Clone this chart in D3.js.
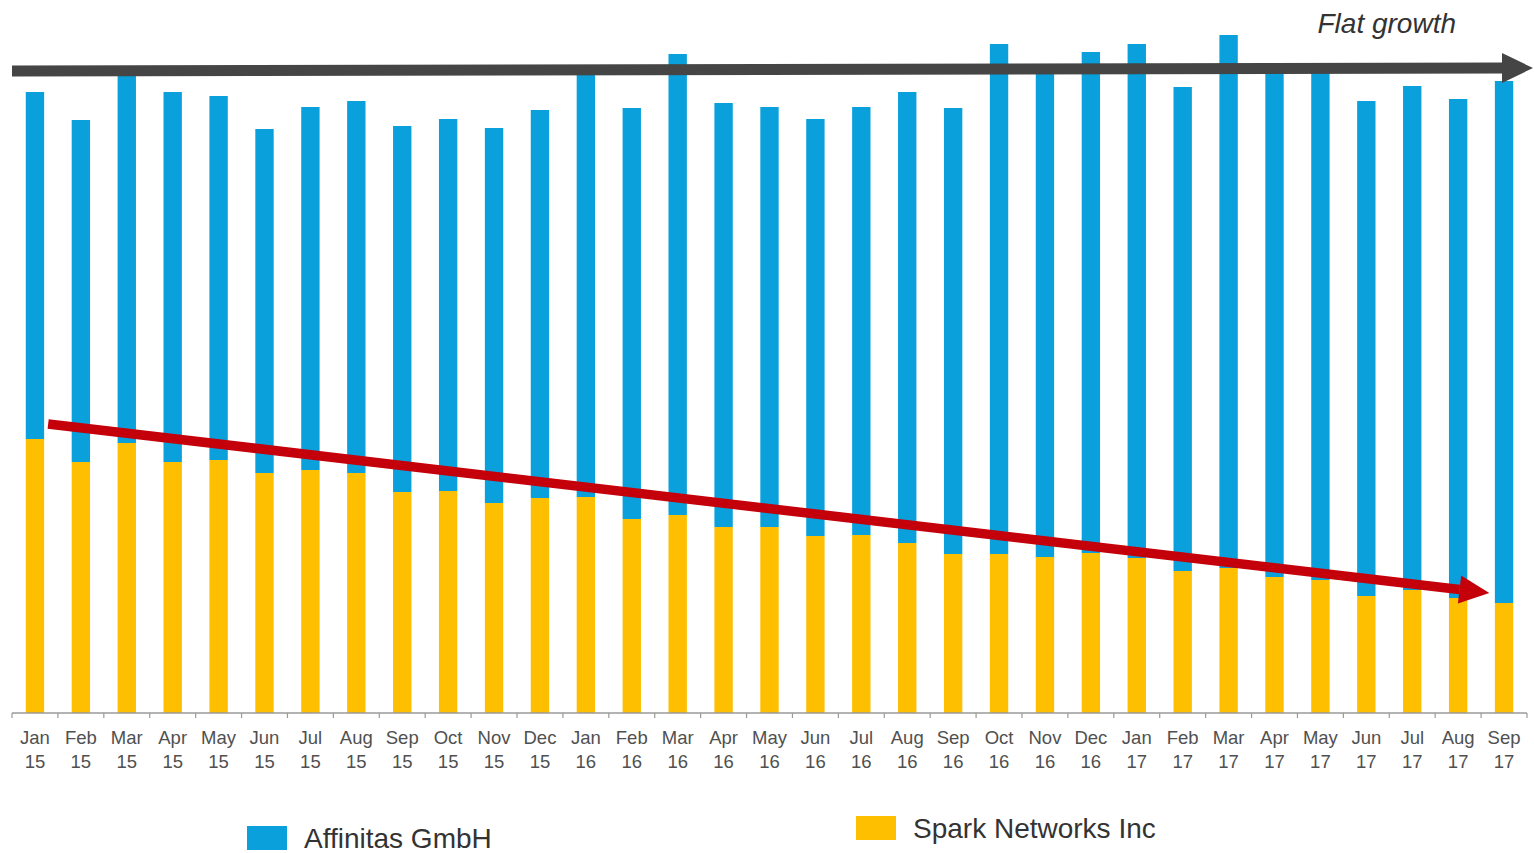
<!DOCTYPE html>
<html>
<head>
<meta charset="utf-8">
<script src="https://cdn.jsdelivr.net/npm/d3@7"></script>
<style>
  html, body { margin: 0; padding: 0; background: #fff; }
  svg { display: block; font-family: "Liberation Sans", Arial, Helvetica, sans-serif; }
</style>
</head>
<body>
<svg id="chart" width="1534" height="853"></svg>
<script>
// Monthly index, Jan 2015 – Sep 2017
const months = ["Jan","Feb","Mar","Apr","May","Jun","Jul","Aug","Sep","Oct","Nov","Dec",
                "Jan","Feb","Mar","Apr","May","Jun","Jul","Aug","Sep","Oct","Nov","Dec",
                "Jan","Feb","Mar","Apr","May","Jun","Jul","Aug","Sep"];
const years  = ["15","15","15","15","15","15","15","15","15","15","15","15",
                "16","16","16","16","16","16","16","16","16","16","16","16",
                "17","17","17","17","17","17","17","17","17"];
const spark = [274,251,270,251,253,240,243,240,221,222,210,215,
               216,194,198,186,186,177,178,170,159,159,156,160,
               155,142,145,136,133,117,123,115,110];
const affinitas = [347,342,371,370,364,344,363,372,366,372,375,388,
                   422,411,461,424,420,417,428,451,446,510,485,501,
                   514,484,533,505,508,495,504,499,522];
const seriesNames = ["Spark Networks Inc", "Affinitas GmbH"];
const seriesColors = ["#fdbf00", "#0aa0dc"];
// Trend annotations (same units as the bars)
const flatLevel = [642, 645];      // start / end level of the flat-growth arrow
const declineLevel = [289, 120];   // start / end level of the declining arrow
const flatLabel = "Flat growth";

const svg = d3.select("#chart");
const keys = months.map((m, i) => m + " " + years[i]);
const rows = keys.map((k, i) => ({ key: k, spark: spark[i], affinitas: affinitas[i] }));

const x = d3.scaleBand().domain(keys).range([12, 1527]).paddingInner(0.6).paddingOuter(0.3);
const y = d3.scaleLinear().domain([0, 680]).range([713, 33]);

const stack = d3.stack().keys(["spark", "affinitas"]);
const layers = stack(rows);

svg.append("g").selectAll("g")
  .data(layers)
  .join("g")
  .attr("fill", (d, i) => seriesColors[i])
  .selectAll("rect")
  .data(d => d)
  .join("rect")
  .attr("x", d => x(d.data.key))
  .attr("width", x.bandwidth())
  .attr("y", d => y(d[1]))
  .attr("height", d => y(d[0]) - y(d[1]));

// Axis baseline and boundary ticks
const axisG = svg.append("g").attr("transform", `translate(0,${y(0)})`);
axisG.append("line")
  .attr("x1", x.range()[0]).attr("x2", x.range()[1])
  .attr("stroke", "#9a9a9a").attr("stroke-width", 1.5);
const half = (x.step() - x.bandwidth()) / 2;
const bounds = keys.map(k => x(k) - half).concat([x.range()[1]]);
axisG.selectAll("line.tick")
  .data(bounds)
  .join("line")
  .attr("class", "tick")
  .attr("x1", d => d).attr("x2", d => d)
  .attr("y1", 0).attr("y2", 5)
  .attr("stroke", "#9a9a9a").attr("stroke-width", 1.2);

// Two-line month / year labels
const lab = axisG.selectAll("text.lab")
  .data(keys)
  .join("text")
  .attr("class", "lab")
  .attr("x", d => x(d) + x.bandwidth() / 2)
  .attr("text-anchor", "middle")
  .attr("fill", "#505050")
  .attr("font-size", 18.5);
lab.append("tspan").attr("x", d => x(d) + x.bandwidth() / 2).attr("y", 31).text((d, i) => months[i]);
lab.append("tspan").attr("x", d => x(d) + x.bandwidth() / 2).attr("y", 55).text((d, i) => years[i]);

// Flat growth arrow
const gx0 = x.range()[0], gx1 = x.range()[1] + 6;
const gy0 = y(flatLevel[0]), gy1 = y(flatLevel[1]);
svg.append("line")
  .attr("x1", gx0).attr("y1", gy0)
  .attr("x2", gx1 - 28).attr("y2", gy1)
  .attr("stroke", "#454545").attr("stroke-width", 11);
svg.append("path")
  .attr("d", `M${gx1},${gy1} L${gx1 - 31},${gy1 - 15} L${gx1 - 31},${gy1 + 15} Z`)
  .attr("fill", "#454545");
svg.append("text")
  .attr("x", gx1 - 77).attr("y", 33)
  .attr("text-anchor", "end")
  .attr("font-size", 28)
  .attr("font-style", "italic")
  .attr("fill", "#333")
  .text(flatLabel);

// Declining trend arrow
const rx0 = x(keys[0]) + x.bandwidth() + 4;
const rx1 = x(keys[keys.length - 2]) + x.bandwidth() + 22;
const ry0 = y(declineLevel[0]), ry1 = y(declineLevel[1]);
const ang = Math.atan2(ry1 - ry0, rx1 - rx0);
const headL = 30, headW = 14;
const bx = rx1 - headL * Math.cos(ang), by = ry1 - headL * Math.sin(ang);
svg.append("line")
  .attr("x1", rx0).attr("y1", ry0)
  .attr("x2", bx).attr("y2", by)
  .attr("stroke", "#c4000a").attr("stroke-width", 9.5);
svg.append("path")
  .attr("d", `M${rx1},${ry1} L${bx - headW * Math.sin(ang)},${by + headW * Math.cos(ang)} L${bx + headW * Math.sin(ang)},${by - headW * Math.cos(ang)} Z`)
  .attr("fill", "#c4000a");

// Legend
const legend = [
  { name: seriesNames[1], color: seriesColors[1], x: 247, y: 826 },
  { name: seriesNames[0], color: seriesColors[0], x: 856, y: 816 }
];
const lg = svg.append("g").selectAll("g").data(legend).join("g")
  .attr("transform", d => `translate(${d.x},${d.y})`);
lg.append("rect").attr("width", 40).attr("height", 24).attr("fill", d => d.color);
lg.append("text").attr("x", 57).attr("y", 22)
  .attr("font-size", 28).attr("fill", "#333")
  .text(d => d.name);
</script>
</body>
</html>
